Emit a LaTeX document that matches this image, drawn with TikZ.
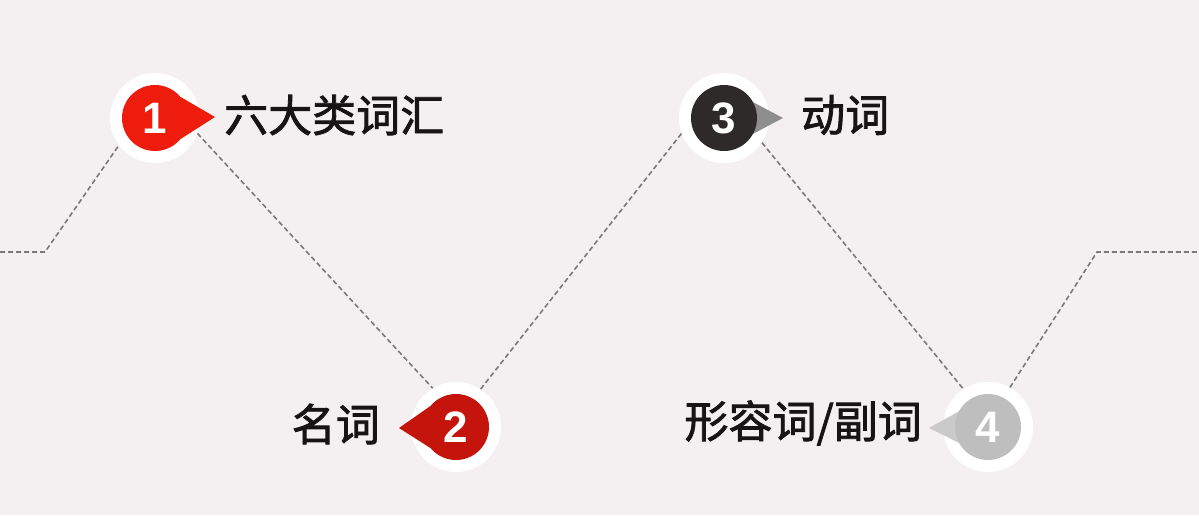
\documentclass[tikz,border=0pt]{standalone}
\usepackage{fontspec}
\usetikzlibrary{calc}
\newfontfamily\cjk[FakeBold=1.8]{Noto Sans CJK SC}
\newfontfamily\numfont{Liberation Sans}
\definecolor{bg}{HTML}{F4F0F1}
\definecolor{cA}{HTML}{EE1C0C}
\definecolor{cB}{HTML}{C4140C}
\definecolor{cC}{HTML}{2E2A2A}
\definecolor{cD}{HTML}{BEBEBE}
\definecolor{pC}{HTML}{8E8E8E}
\definecolor{pD}{HTML}{CACACA}
\definecolor{dash}{HTML}{7A7A7A}
\definecolor{ink}{HTML}{161414}
\tikzset{
  ring/.style={circle,fill=white,minimum size=90pt,inner sep=0pt},
  disc/.style={circle,minimum size=66pt,inner sep=0pt,text=white,font=\numfont\bfseries\fontsize{44}{44}\selectfont},
  lbl/.style={font=\cjk\fontsize{44}{44}\selectfont,text=ink,inner sep=0pt},
  dline/.style={draw=dash,line width=1.6pt,dash pattern=on 5pt off 3pt}
}
\begin{document}
\begin{tikzpicture}[x=1pt,y=-1pt]
\fill[bg] (0,0) rectangle (1199,515);
\useasboundingbox (0,0) rectangle (1199,515);
% rings
\node[ring] (r1) at (155,118) {};
\node[ring] (r2) at (456,427) {};
\node[ring] (r3) at (724,118) {};
\node[ring] (r4) at (988,427) {};
% corner coordinates
\coordinate (e0) at (0,252);
\coordinate (k0) at (45,252);
\coordinate (k4) at (1097,252);
\coordinate (e4) at (1199,252);
% dashed lines
\draw[dline] (e0) -- (k0) -- (r1.217);
\draw[dline] (r1.340) -- (r2.121);
\draw[dline] (r2.57) -- (r3.200);
\draw[dline] (r3.327) -- (r4.123);
\draw[dline] (r4.61) -- (k4) -- (e4);
% pointers
\coordinate (t1) at (215,117);
\coordinate (t2) at (399,428);
\coordinate (t3) at (783,118);
\coordinate (t4) at (929,428);
\fill[cA] (t1) -- ($(r1.center)+(40:33)$) -- ($(r1.center)+(-40:33)$) -- cycle;
\fill[cB] (t2) -- ($(r2.center)+(140:33)$) -- ($(r2.center)+(220:33)$) -- cycle;
\fill[pC] (t3) -- ($(r3.center)+(35:31)$) -- ($(r3.center)+(-35:31)$) -- cycle;
\fill[pD] (t4) -- ($(r4.center)+(145:31)$) -- ($(r4.center)+(215:31)$) -- cycle;
% discs
\node[disc,fill=cA] (n1) at (r1.center) {1};
\node[disc,fill=cB] (n2) at (r2.center) {2};
\node[disc,fill=cC] (n3) at (r3.center) {3};
\node[disc,fill=cD] (n4) at (r4.center) {4};
% labels
\node[lbl,anchor=west] (l1) at (224,115) {六大类词汇};
\node[lbl,anchor=east] (l2) at (380,424) {名词};
\node[lbl,anchor=west] (l3) at (801,115) {动词};
\node[lbl,anchor=east] (l4) at (922,423) {形容词/副词};
\end{tikzpicture}
\end{document}
